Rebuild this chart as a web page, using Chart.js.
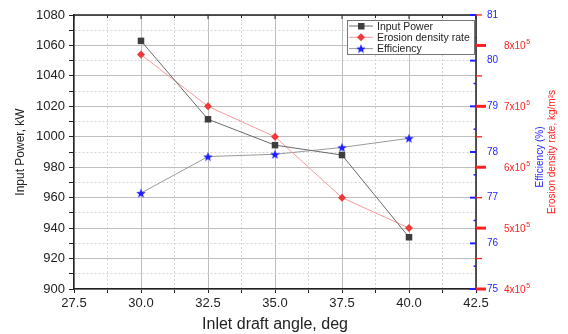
<!DOCTYPE html>
<html lang="en">
<head>
  <meta charset="UTF-8"/>
  <title>Input power, erosion and efficiency vs inlet draft angle</title>
  <script src="https://cdn.jsdelivr.net/npm/chart.js"></script>
  <style>
    html, body { margin: 0; padding: 0; background: #fff; }
    .chart-box { width: 568px; height: 334px; position: relative; }
  </style>
</head>
<body>
  <div class="chart-box"><canvas id="chart"></canvas></div>

  <script>
    // Values
    const angles      = [30, 32.5, 35, 37.5, 40];
    const inputPower  = [1063, 1011.5, 994.5, 988, 934];            // kW
    const erosionRate = [785000, 700000, 650000, 550000, 500000];   // kg/m2s
    const efficiency  = [77.1, 77.9, 77.95, 78.1, 78.3];            // %

    // Tick labels
    const angleTicks      = [27.5, 30, 32.5, 35, 37.5, 40, 42.5];
    const powerTicks      = [900, 920, 940, 960, 980, 1000, 1020, 1040, 1060, 1080];
    const efficiencyTicks = [75, 76, 77, 78, 79, 80, 81];
    const erosionTicks    = [400000, 500000, 600000, 700000, 800000];

    const FONT = "'Liberation Sans', Arial, sans-serif";
    const BLUE = '#1f1fff', RED = '#ff2020';

    // majors plus the half-way minor ticks
    function withMinors(ticks) {
      const out = [];
      ticks.forEach((v, i) => {
        out.push(v);
        if (i < ticks.length - 1) out.push((v + ticks[i + 1]) / 2);
      });
      return out;
    }
    const isMajor = (list, v) => list.includes(v);

    // filled five point star used as the efficiency marker
    function makeStar(size, color) {
      const c = document.createElement('canvas');
      c.width = c.height = size;
      const g = c.getContext('2d');
      const r = size / 2, ri = r * 0.42;
      g.fillStyle = color;
      g.beginPath();
      for (let k = 0; k < 10; k++) {
        const rad = (k % 2 === 0) ? r : ri;
        const ang = -Math.PI / 2 + k * Math.PI / 5;
        g.lineTo(r + rad * Math.cos(ang), r + 0.5 + rad * Math.sin(ang));
      }
      g.closePath();
      g.fill();
      return c;
    }
    const star = makeStar(10, BLUE);

    function gridScale(list) {
      return {
        color: c => isMajor(list, c.tick.value) ? '#bdbdbd' : '#d4d4d4',
        lineWidth: 1,
        tickColor: '#222',
        tickLength: 5,
        tickBorderDash: []
      };
    }

    // top border, right axes, right titles and legend
    const framePlugin = {
      id: 'frame',
      afterDraw(chart) {
        const { ctx, chartArea: a, scales } = chart;
        ctx.save();

        // box edges
        ctx.strokeStyle = '#222';
        ctx.lineWidth = 1.5;
        ctx.beginPath();
        ctx.moveTo(a.left, a.top);
        ctx.lineTo(a.right, a.top);
        ctx.lineTo(a.right, a.bottom);
        ctx.stroke();

        // mirrored ticks on top
        ctx.lineWidth = 1;
        withMinors(angleTicks).forEach(v => {
          const x = scales.x.getPixelForValue(v);
          ctx.beginPath();
          ctx.moveTo(x, a.top);
          ctx.lineTo(x, a.top + (isMajor(angleTicks, v) ? 4 : 3));
          ctx.stroke();
        });

        // efficiency axis (blue, ticks inward)
        const ye = scales.yEff;
        ctx.strokeStyle = BLUE;
        withMinors(efficiencyTicks).forEach(v => {
          const y = ye.getPixelForValue(v);
          const major = isMajor(efficiencyTicks, v);
          ctx.lineWidth = major ? 2 : 1.5;
          ctx.beginPath();
          ctx.moveTo(a.right - (major ? 6 : 2.5), y);
          ctx.lineTo(a.right, y);
          ctx.stroke();
        });

        // erosion axis (red, ticks outward)
        const yr = scales.yEro;
        ctx.strokeStyle = RED;
        erosionTicks.concat(erosionTicks.map(v => v + 50000)).forEach(v => {
          const y = yr.getPixelForValue(v);
          const major = isMajor(erosionTicks, v);
          ctx.lineWidth = major ? 3 : 1.3;
          ctx.beginPath();
          ctx.moveTo(a.right, y);
          ctx.lineTo(a.right + (major ? 10 : 6), y);
          ctx.stroke();
        });

        // right tick labels
        ctx.textBaseline = 'middle';
        ctx.textAlign = 'left';
        ctx.font = '10px ' + FONT;
        ctx.fillStyle = BLUE;
        efficiencyTicks.forEach(v => {
          ctx.fillText(String(v), a.right + 11, ye.getPixelForValue(v));
        });
        ctx.fillStyle = RED;
        erosionTicks.forEach(v => {
          const y = yr.getPixelForValue(v);
          const base = (v / 100000) + 'x10';
          ctx.font = '10px ' + FONT;
          ctx.fillText(base, a.right + 28, y + 1);
          const w = ctx.measureText(base).width;
          ctx.font = '7px ' + FONT;
          ctx.fillText('5', a.right + 28 + w + 0.5, y - 3);
        });

        // right axis titles
        const midY = (a.top + a.bottom) / 2;
        ctx.font = '10px ' + FONT;
        ctx.textAlign = 'center';
        ctx.save();
        ctx.translate(540, midY + 5);
        ctx.rotate(-Math.PI / 2);
        ctx.fillStyle = BLUE;
        ctx.fillText('Efficiency (%)', 0, 0);
        ctx.restore();
        ctx.save();
        ctx.translate(552, midY);
        ctx.rotate(-Math.PI / 2);
        ctx.fillStyle = RED;
        ctx.fillText('Erosion density rate, kg/m\u00B2s', 0, 0);
        ctx.restore();

        // legend box
        const lx = 347, ly = 20, lw = 127, lh = 34;
        ctx.fillStyle = '#fff';
        ctx.fillRect(lx, ly, lw, lh);
        ctx.strokeStyle = '#777';
        ctx.lineWidth = 1;
        ctx.strokeRect(lx + 0.5, ly + 0.5, lw, lh);

        ctx.textAlign = 'left';
        ctx.font = '10.5px ' + FONT;
        chart.data.datasets.forEach((ds, i) => {
          const y = 26 + i * 11.3;
          ctx.strokeStyle = ds.borderColor;
          ctx.lineWidth = 1;
          ctx.beginPath();
          ctx.moveTo(349, y);
          ctx.lineTo(373, y);
          ctx.stroke();
          ctx.fillStyle = ds.pointBackgroundColor;
          if (ds.pointStyle === 'rect') {
            ctx.fillRect(358, y - 3, 6.5, 6.5);
          } else if (ds.pointStyle === 'rectRot') {
            ctx.beginPath();
            ctx.moveTo(361, y - 4);
            ctx.lineTo(365, y);
            ctx.lineTo(361, y + 4);
            ctx.lineTo(357, y);
            ctx.closePath();
            ctx.fill();
          } else {
            ctx.drawImage(star, 356, y - 5);
          }
          ctx.fillStyle = '#222';
          ctx.fillText(ds.label, 377, y + 1);
        });

        ctx.restore();
      }
    };

    new Chart(document.getElementById('chart'), {
      type: 'line',
      data: {
        datasets: [
          {
            label: 'Input Power',
            data: angles.map((a, i) => ({ x: a, y: inputPower[i] })),
            yAxisID: 'y',
            borderColor: '#6a6a6a',
            borderWidth: 1,
            pointStyle: 'rect',
            pointRadius: 4.6,
            pointBackgroundColor: '#3d3d3d',
            pointBorderWidth: 0
          },
          {
            label: 'Erosion density rate',
            data: angles.map((a, i) => ({ x: a, y: erosionRate[i] })),
            yAxisID: 'yEro',
            borderColor: '#f59a9a',
            borderWidth: 1,
            pointStyle: 'rectRot',
            pointRadius: 4,
            pointBackgroundColor: '#f03838',
            pointBorderWidth: 0
          },
          {
            label: 'Efficiency',
            data: angles.map((a, i) => ({ x: a, y: efficiency[i] })),
            yAxisID: 'yEff',
            borderColor: '#9a9a9a',
            borderWidth: 1,
            pointStyle: star,
            pointRadius: 5,
            pointBackgroundColor: BLUE,
            pointBorderWidth: 0
          }
        ]
      },
      options: {
        responsive: true,
        maintainAspectRatio: false,
        animation: false,
        events: [],
        layout: { padding: { left: 0, right: 92, top: 15, bottom: 0 } },
        plugins: {
          legend: { display: false },
          tooltip: { enabled: false }
        },
        scales: {
          x: {
            type: 'linear',
            min: 27.5,
            max: 42.5,
            afterBuildTicks: s => { s.ticks = withMinors(angleTicks).map(v => ({ value: v })); },
            afterFit: s => { s.height = 45; },
            ticks: {
              autoSkip: false,
              maxRotation: 0,
              padding: 3,
              color: '#222',
              font: { family: FONT, size: 13 },
              callback: v => isMajor(angleTicks, v) ? v.toFixed(1) : ''
            },
            grid: Object.assign(gridScale(angleTicks), { tickLength: 4 }),
            border: {
              color: '#222',
              width: 1.5,
              dash: c => isMajor(angleTicks, c.tick.value) ? [] : [2, 2]
            },
            title: {
              display: true,
              text: 'Inlet draft angle, deg',
              color: '#222',
              font: { family: FONT, size: 16 },
              padding: { top: 0, bottom: 0 }
            }
          },
          y: {
            type: 'linear',
            position: 'left',
            min: 900,
            max: 1080,
            afterBuildTicks: s => { s.ticks = withMinors(powerTicks).map(v => ({ value: v })); },
            afterFit: s => { s.width = 74; },
            ticks: {
              autoSkip: false,
              padding: 4,
              color: '#222',
              font: { family: FONT, size: 13 },
              callback: v => isMajor(powerTicks, v) ? String(v) : ''
            },
            grid: gridScale(powerTicks),
            border: {
              color: '#222',
              width: 1.5,
              dash: c => isMajor(powerTicks, c.tick.value) ? [] : [2, 2]
            },
            title: {
              display: true,
              text: 'Input Power, kW',
              color: '#222',
              font: { family: FONT, size: 12 },
              padding: { top: 13, bottom: 0 }
            }
          },
          yEff: { type: 'linear', position: 'right', min: 75, max: 81, display: false },
          yEro: { type: 'linear', position: 'right', min: 400000, max: 850000, display: false }
        }
      },
      plugins: [framePlugin]
    });
  </script>
</body>
</html>
